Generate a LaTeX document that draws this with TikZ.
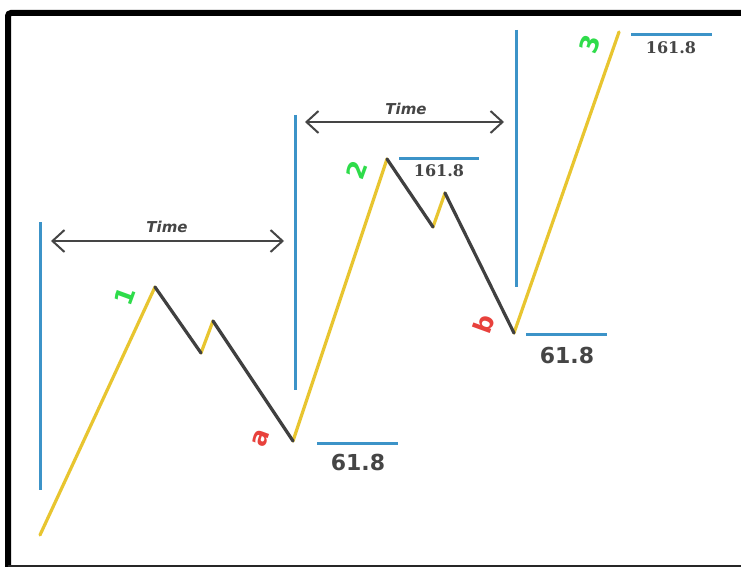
\documentclass[tikz,border=0pt]{standalone}
\usepackage{fontspec}
\setmainfont{DejaVu Sans}
\newfontfamily\numserif{DejaVu Serif}
\usetikzlibrary{arrows.meta}
\definecolor{wyellow}{HTML}{E8C530}
\definecolor{wdark}{HTML}{404040}
\definecolor{wblue}{HTML}{3C93C8}
\definecolor{wgreen}{HTML}{2EDC4A}
\definecolor{wred}{HTML}{E8413C}
\definecolor{wtext}{HTML}{454545}
\begin{document}
\begin{tikzpicture}[x=1pt,y=-1pt,
  upleg/.style={wyellow,line width=3.2pt,line cap=round},
  downleg/.style={wdark,line width=3.2pt,line cap=round},
  level/.style={wblue,line width=3pt},
  timearrow/.style={wtext,line width=2pt,
    {Straight Barb[length=12pt,width=22pt]}-{Straight Barb[length=12pt,width=22pt]}},
  timetext/.style={text=wtext,font=\fontsize{15}{18}\selectfont\bfseries\itshape,inner sep=0pt},
  fibbig/.style={text=wtext,font=\fontsize{22}{26}\selectfont\bfseries,inner sep=0pt},
  fibsmall/.style={text=wtext,font=\numserif\fontsize{16}{19}\selectfont\bfseries,inner sep=0pt},
  wavenum/.style={text=wgreen,font=\fontsize{25}{28}\selectfont\bfseries,rotate=70,inner sep=0pt},
  wavelet/.style={text=wred,font=\fontsize{25}{28}\selectfont\bfseries,rotate=70,inner sep=0pt}]
\useasboundingbox (0,0) rectangle (741,567);
\fill[white] (0,0) rectangle (741,567);
% frame
\draw[black,line width=6pt,rounded corners=3pt] (745,13) -- (8,13) -- (8,572);
\draw[black!85,line width=2pt] (8,566) -- (745,566);

% wave points
\coordinate (w0) at (40,535);
\coordinate (w1) at (155,287);
\coordinate (w1a) at (201,353);
\coordinate (w1b) at (213,321);
\coordinate (wa) at (293,441);
\coordinate (w2) at (387,159);
\coordinate (w2a) at (433,227);
\coordinate (w2b) at (445,193);
\coordinate (wb) at (514,333);
\coordinate (w3) at (619,32);

% blue verticals
\coordinate (v1t) at (40,222); \coordinate (v1b) at (40,490);
\coordinate (v2t) at (295,115); \coordinate (v2b) at (295,390);
\coordinate (v3t) at (516,30); \coordinate (v3b) at (516,287);
\draw[level] (v1t) -- (v1b);
\draw[level] (v2t) -- (v2b);
\draw[level] (v3t) -- (v3b);

% blue levels
\coordinate (l1s) at (317,443); \coordinate (l1e) at (398,443);
\coordinate (l2s) at (526,334); \coordinate (l2e) at (607,334);
\coordinate (l3s) at (399,158); \coordinate (l3e) at (479,158);
\coordinate (l4s) at (631,35); \coordinate (l4e) at (712,35);
\draw[level] (l1s) -- (l1e);
\draw[level] (l2s) -- (l2e);
\draw[level] (l3s) -- (l3e);
\draw[level] (l4s) -- (l4e);

% wave legs
\draw[upleg] (w0) -- (w1);
\draw[upleg] (w1a) -- (w1b);
\draw[upleg] (wa) -- (w2);
\draw[upleg] (w2a) -- (w2b);
\draw[upleg] (wb) -- (w3);
\draw[downleg] (w1) -- (w1a);
\draw[downleg] (w1b) -- (wa);
\draw[downleg] (w2) -- (w2a);
\draw[downleg] (w2b) -- (wb);

% time arrows
\coordinate (t1s) at (51,241); \coordinate (t1e) at (284,241);
\coordinate (t2s) at (305,122); \coordinate (t2e) at (504,122);
\draw[timearrow] (t1s) -- (t1e);
\draw[timearrow] (t2s) -- (t2e);
\node[timetext] (time1) at (167,227) {Time};
\node[timetext] (time2) at (406,109) {Time};

% fib numbers
\node[fibbig] (f1) at (358,462) {61.8};
\node[fibbig] (f2) at (567,355) {61.8};
\node[fibsmall] (f3) at (439,171) {161.8};
\node[fibsmall] (f4) at (671,48) {161.8};

% wave labels
\node[wavenum] (n1) at (125,296) {1};
\node[wavenum] (n2) at (357,170) {2};
\node[wavenum] (n3) at (590,44) {3};
\node[wavelet] (na) at (261,438) {a};
\node[wavelet] (nb) at (484,324) {b};
\end{tikzpicture}
\end{document}
